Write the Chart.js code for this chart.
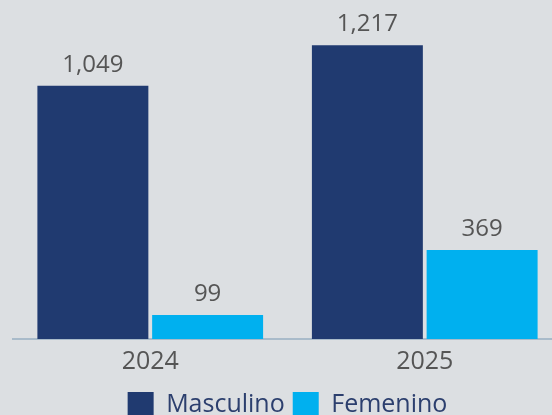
<!DOCTYPE html>
<html>
<head>
<meta charset="utf-8">
<script src="https://cdn.jsdelivr.net/npm/chart.js@4"></script>
<style>
  html, body { margin: 0; padding: 0; background: #dcdfe2; overflow: hidden; }
  #wrap { width: 552px; height: 415px; overflow: hidden; position: relative; }
  #box { width: 570px; height: 428px; position: absolute; left: 0; top: 0; }
</style>
</head>
<body>
<div id="wrap"><div id="box"><canvas id="chart"></canvas></div></div>
<script>
// Data
const years = ['2024', '2025'];
const masculino = [1049, 1217];
const femenino = [99, 369];
const seriesNames = ['Masculino', 'Femenino'];

const colors = {
    navy: '#203a70',
    cyan: '#00b0ef',
    text: '#555555',
    legend: '#2c3f6e',
    axis: '#a9bbca'
};

// Numbers above each bar
const valueLabels = {
    id: 'valueLabels',
    afterDatasetsDraw(chart) {
        const ctx = chart.ctx;
        ctx.save();
        ctx.font = '24px "Open Sans"';
        ctx.fillStyle = colors.text;
        ctx.textAlign = 'center';
        ctx.textBaseline = 'alphabetic';
        chart.data.datasets.forEach((ds, i) => {
            chart.getDatasetMeta(i).data.forEach((bar, j) => {
                ctx.fillText(ds.data[j].toLocaleString('en-US'), bar.x, bar.y - 14);
            });
        });
        ctx.restore();
    }
};

new Chart(document.getElementById('chart'), {
    type: 'bar',
    data: {
        labels: years,
        datasets: [
            { label: seriesNames[0], data: masculino, backgroundColor: colors.navy },
            { label: seriesNames[1], data: femenino, backgroundColor: colors.cyan }
        ]
    },
    options: {
        responsive: true,
        maintainAspectRatio: false,
        animation: false,
        barPercentage: 0.967,
        categoryPercentage: 0.836,
        layout: { padding: { left: 13, right: 8, top: 0, bottom: 0 } },
        plugins: {
            legend: {
                position: 'bottom',
                labels: {
                    font: { family: 'Open Sans', size: 25 },
                    color: colors.legend,
                    boxWidth: 26,
                    boxHeight: 26,
                    padding: 8
                }
            },
            tooltip: { enabled: false }
        },
        scales: {
            x: {
                grid: { display: false },
                border: { display: true, color: colors.axis, width: 2 },
                ticks: {
                    font: { family: 'Open Sans', size: 25 },
                    color: colors.text,
                    padding: 0
                },
                afterFit(scale) {
                    // extra room between year labels and legend
                    scale.height += 7;
                }
            },
            y: {
                display: false,
                min: 0,
                max: 1404
            }
        }
    },
    plugins: [valueLabels]
});
</script>
</body>
</html>
